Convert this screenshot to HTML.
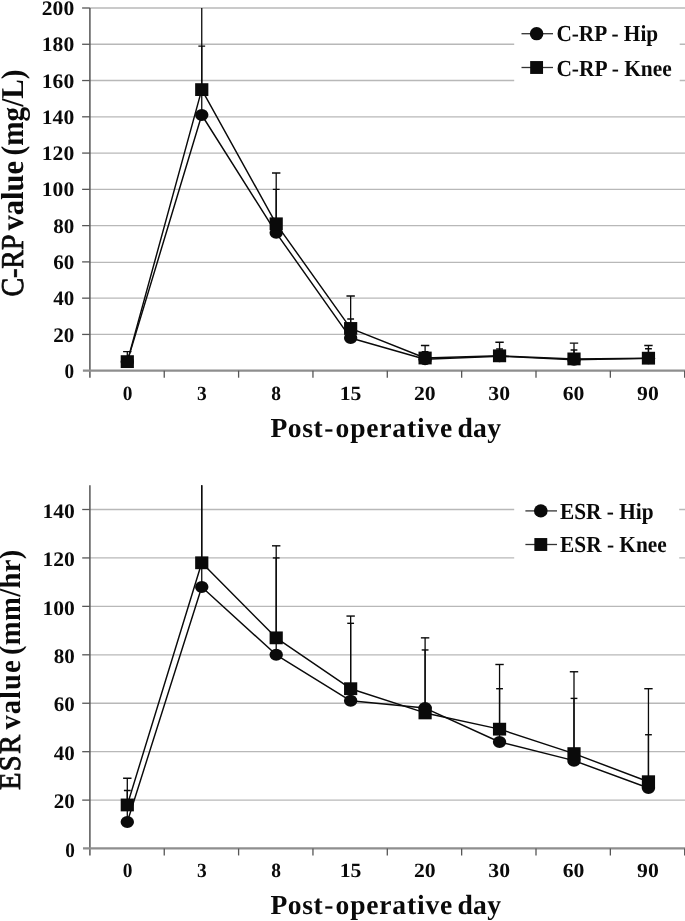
<!DOCTYPE html>
<html><head><meta charset="utf-8"><title>Chart</title>
<style>html,body{margin:0;padding:0;background:#fff;overflow:hidden;}svg{display:block;font-family:'Liberation Serif',serif;font-weight:bold;will-change:transform;filter:blur(0.45px);-webkit-font-smoothing:antialiased;text-rendering:geometricPrecision}</style></head>
<body><svg width="685" height="921" viewBox="0 0 685 921">
<rect width="685" height="921" fill="#fff"/>
<line x1="89.9" y1="334.43" x2="685" y2="334.43" stroke="#b8b8b8" stroke-width="1.35"/>
<line x1="89.9" y1="298.16" x2="685" y2="298.16" stroke="#b8b8b8" stroke-width="1.35"/>
<line x1="89.9" y1="262.39" x2="685" y2="262.39" stroke="#b8b8b8" stroke-width="1.35"/>
<line x1="89.9" y1="225.62" x2="685" y2="225.62" stroke="#b8b8b8" stroke-width="1.35"/>
<line x1="89.9" y1="189.35" x2="685" y2="189.35" stroke="#b8b8b8" stroke-width="1.35"/>
<line x1="89.9" y1="153.08" x2="685" y2="153.08" stroke="#b8b8b8" stroke-width="1.35"/>
<line x1="89.9" y1="116.81" x2="685" y2="116.81" stroke="#b8b8b8" stroke-width="1.35"/>
<line x1="89.9" y1="80.54" x2="685" y2="80.54" stroke="#b8b8b8" stroke-width="1.35"/>
<line x1="89.9" y1="44.27" x2="685" y2="44.27" stroke="#b8b8b8" stroke-width="1.35"/>
<line x1="89.9" y1="8.00" x2="685" y2="8.00" stroke="#b8b8b8" stroke-width="1.35"/>
<rect x="514.2" y="18" width="165.5" height="72" fill="#fff"/>
<line x1="89.9" y1="8.00" x2="89.9" y2="377.70" stroke="#565656" stroke-width="1.5"/>
<line x1="82.9" y1="370.55" x2="685" y2="370.55" stroke="#8e8e8e" stroke-width="2.3"/>
<line x1="164.25" y1="370.70" x2="164.25" y2="377.70" stroke="#565656" stroke-width="1.3"/>
<line x1="238.60" y1="370.70" x2="238.60" y2="377.70" stroke="#565656" stroke-width="1.3"/>
<line x1="312.95" y1="370.70" x2="312.95" y2="377.70" stroke="#565656" stroke-width="1.3"/>
<line x1="387.30" y1="370.70" x2="387.30" y2="377.70" stroke="#565656" stroke-width="1.3"/>
<line x1="461.65" y1="370.70" x2="461.65" y2="377.70" stroke="#565656" stroke-width="1.3"/>
<line x1="536.00" y1="370.70" x2="536.00" y2="377.70" stroke="#565656" stroke-width="1.3"/>
<line x1="610.35" y1="370.70" x2="610.35" y2="377.70" stroke="#565656" stroke-width="1.3"/>
<line x1="684.70" y1="370.70" x2="684.70" y2="377.70" stroke="#565656" stroke-width="1.3"/>
<line x1="82.10000000000001" y1="334.43" x2="89.9" y2="334.43" stroke="#565656" stroke-width="1.3"/>
<line x1="82.10000000000001" y1="298.16" x2="89.9" y2="298.16" stroke="#565656" stroke-width="1.3"/>
<line x1="82.10000000000001" y1="261.89" x2="89.9" y2="261.89" stroke="#565656" stroke-width="1.3"/>
<line x1="82.10000000000001" y1="225.62" x2="89.9" y2="225.62" stroke="#565656" stroke-width="1.3"/>
<line x1="82.10000000000001" y1="189.35" x2="89.9" y2="189.35" stroke="#565656" stroke-width="1.3"/>
<line x1="82.10000000000001" y1="153.08" x2="89.9" y2="153.08" stroke="#565656" stroke-width="1.3"/>
<line x1="82.10000000000001" y1="116.81" x2="89.9" y2="116.81" stroke="#565656" stroke-width="1.3"/>
<line x1="82.10000000000001" y1="80.54" x2="89.9" y2="80.54" stroke="#565656" stroke-width="1.3"/>
<line x1="82.10000000000001" y1="44.27" x2="89.9" y2="44.27" stroke="#565656" stroke-width="1.3"/>
<line x1="82.10000000000001" y1="8.00" x2="89.9" y2="8.00" stroke="#565656" stroke-width="1.3"/>
<text x="64.60" y="377.80" font-size="20.6" textLength="9.6" lengthAdjust="spacingAndGlyphs" fill="#0a0a0a">0</text>
<text x="53.20" y="341.53" font-size="20.6" textLength="21.0" lengthAdjust="spacingAndGlyphs" fill="#0a0a0a">20</text>
<text x="53.20" y="305.26" font-size="20.6" textLength="21.0" lengthAdjust="spacingAndGlyphs" fill="#0a0a0a">40</text>
<text x="53.20" y="268.99" font-size="20.6" textLength="21.0" lengthAdjust="spacingAndGlyphs" fill="#0a0a0a">60</text>
<text x="53.20" y="232.72" font-size="20.6" textLength="21.0" lengthAdjust="spacingAndGlyphs" fill="#0a0a0a">80</text>
<text x="41.80" y="196.45" font-size="20.6" textLength="32.4" lengthAdjust="spacingAndGlyphs" fill="#0a0a0a">100</text>
<text x="41.80" y="160.18" font-size="20.6" textLength="32.4" lengthAdjust="spacingAndGlyphs" fill="#0a0a0a">120</text>
<text x="41.80" y="123.91" font-size="20.6" textLength="32.4" lengthAdjust="spacingAndGlyphs" fill="#0a0a0a">140</text>
<text x="41.80" y="87.64" font-size="20.6" textLength="32.4" lengthAdjust="spacingAndGlyphs" fill="#0a0a0a">160</text>
<text x="41.80" y="51.37" font-size="20.6" textLength="32.4" lengthAdjust="spacingAndGlyphs" fill="#0a0a0a">180</text>
<text x="41.80" y="15.10" font-size="20.6" textLength="32.4" lengthAdjust="spacingAndGlyphs" fill="#0a0a0a">200</text>
<text x="122.63" y="399.6" font-size="20.2" textLength="9.7" lengthAdjust="spacingAndGlyphs" fill="#0a0a0a">0</text>
<text x="196.97" y="399.6" font-size="20.2" textLength="9.7" lengthAdjust="spacingAndGlyphs" fill="#0a0a0a">3</text>
<text x="271.32" y="399.6" font-size="20.2" textLength="9.7" lengthAdjust="spacingAndGlyphs" fill="#0a0a0a">8</text>
<text x="339.67" y="399.6" font-size="20.2" textLength="21.7" lengthAdjust="spacingAndGlyphs" fill="#0a0a0a">15</text>
<text x="414.02" y="399.6" font-size="20.2" textLength="21.7" lengthAdjust="spacingAndGlyphs" fill="#0a0a0a">20</text>
<text x="488.38" y="399.6" font-size="20.2" textLength="21.7" lengthAdjust="spacingAndGlyphs" fill="#0a0a0a">30</text>
<text x="562.72" y="399.6" font-size="20.2" textLength="21.7" lengthAdjust="spacingAndGlyphs" fill="#0a0a0a">60</text>
<text x="637.07" y="399.6" font-size="20.2" textLength="21.7" lengthAdjust="spacingAndGlyphs" fill="#0a0a0a">90</text>
<text x="270.4" y="436.9" font-size="27.6" textLength="52.4" lengthAdjust="spacing" fill="#0a0a0a">Post</text>
<text x="324.2" y="436.9" font-size="27.6" textLength="8.8" lengthAdjust="spacing" fill="#0a0a0a">-</text>
<text x="335.6" y="436.9" font-size="27.6" textLength="116.6" lengthAdjust="spacing" fill="#0a0a0a">operative</text>
<text x="457.4" y="436.9" font-size="27.6" textLength="43.6" lengthAdjust="spacing" fill="#0a0a0a">day</text>
<text transform="translate(23.2,296.6) rotate(-90) scale(1,1.06)" font-size="30" textLength="62.0" lengthAdjust="spacingAndGlyphs" fill="#0a0a0a" font-weight="normal" stroke="#0a0a0a" stroke-width="0.75">C-RP</text>
<text transform="translate(23.2,230.6) rotate(-90) scale(1,1.06)" font-size="30" textLength="69.6" lengthAdjust="spacingAndGlyphs" fill="#0a0a0a" >value</text>
<text transform="translate(23.2,155.4) rotate(-90) scale(1,1.06)" font-size="30" textLength="85.8" lengthAdjust="spacingAndGlyphs" fill="#0a0a0a" >(mg/L)</text>
<clipPath id="c370"><rect x="89.9" y="8.00" width="595.1" height="372.70"/></clipPath>
<g clip-path="url(#c370)">
<line x1="127.30" y1="361.63" x2="127.30" y2="357.10" stroke="#0a0a0a" stroke-width="1.3"/>
<line x1="123.90" y1="357.10" x2="130.70" y2="357.10" stroke="#0a0a0a" stroke-width="1.4"/>
<line x1="201.75" y1="115.00" x2="201.75" y2="46.08" stroke="#0a0a0a" stroke-width="1.3"/>
<line x1="198.35" y1="46.08" x2="205.15" y2="46.08" stroke="#0a0a0a" stroke-width="1.4"/>
<line x1="276.20" y1="232.87" x2="276.20" y2="189.35" stroke="#0a0a0a" stroke-width="1.3"/>
<line x1="272.80" y1="189.35" x2="279.60" y2="189.35" stroke="#0a0a0a" stroke-width="1.4"/>
<line x1="350.65" y1="338.06" x2="350.65" y2="319.02" stroke="#0a0a0a" stroke-width="1.3"/>
<line x1="347.25" y1="319.02" x2="354.05" y2="319.02" stroke="#0a0a0a" stroke-width="1.4"/>
<line x1="425.10" y1="359.27" x2="425.10" y2="351.66" stroke="#0a0a0a" stroke-width="1.3"/>
<line x1="421.70" y1="351.66" x2="428.50" y2="351.66" stroke="#0a0a0a" stroke-width="1.4"/>
<line x1="499.55" y1="356.19" x2="499.55" y2="348.94" stroke="#0a0a0a" stroke-width="1.3"/>
<line x1="496.15" y1="348.94" x2="502.95" y2="348.94" stroke="#0a0a0a" stroke-width="1.4"/>
<line x1="574.00" y1="359.82" x2="574.00" y2="350.03" stroke="#0a0a0a" stroke-width="1.3"/>
<line x1="570.60" y1="350.03" x2="577.40" y2="350.03" stroke="#0a0a0a" stroke-width="1.4"/>
<line x1="648.45" y1="358.37" x2="648.45" y2="348.76" stroke="#0a0a0a" stroke-width="1.3"/>
<line x1="645.05" y1="348.76" x2="651.85" y2="348.76" stroke="#0a0a0a" stroke-width="1.4"/>
<line x1="127.30" y1="361.63" x2="127.30" y2="351.66" stroke="#0a0a0a" stroke-width="1.3"/>
<line x1="123.10" y1="351.66" x2="131.50" y2="351.66" stroke="#0a0a0a" stroke-width="1.4"/>
<line x1="201.75" y1="89.61" x2="201.75" y2="-10.13" stroke="#0a0a0a" stroke-width="1.3"/>
<line x1="197.55" y1="-10.13" x2="205.95" y2="-10.13" stroke="#0a0a0a" stroke-width="1.4"/>
<line x1="276.20" y1="223.81" x2="276.20" y2="173.03" stroke="#0a0a0a" stroke-width="1.3"/>
<line x1="272.00" y1="173.03" x2="280.40" y2="173.03" stroke="#0a0a0a" stroke-width="1.4"/>
<line x1="350.65" y1="328.45" x2="350.65" y2="295.98" stroke="#0a0a0a" stroke-width="1.3"/>
<line x1="346.45" y1="295.98" x2="354.85" y2="295.98" stroke="#0a0a0a" stroke-width="1.4"/>
<line x1="425.10" y1="358.01" x2="425.10" y2="345.49" stroke="#0a0a0a" stroke-width="1.3"/>
<line x1="420.90" y1="345.49" x2="429.30" y2="345.49" stroke="#0a0a0a" stroke-width="1.4"/>
<line x1="499.55" y1="355.83" x2="499.55" y2="342.23" stroke="#0a0a0a" stroke-width="1.3"/>
<line x1="495.35" y1="342.23" x2="503.75" y2="342.23" stroke="#0a0a0a" stroke-width="1.4"/>
<line x1="574.00" y1="358.91" x2="574.00" y2="343.13" stroke="#0a0a0a" stroke-width="1.3"/>
<line x1="569.80" y1="343.13" x2="578.20" y2="343.13" stroke="#0a0a0a" stroke-width="1.4"/>
<line x1="648.45" y1="358.19" x2="648.45" y2="345.49" stroke="#0a0a0a" stroke-width="1.3"/>
<line x1="644.25" y1="345.49" x2="652.65" y2="345.49" stroke="#0a0a0a" stroke-width="1.4"/>
<polyline points="127.30,361.63 201.75,115.00 276.20,232.87 350.65,338.06 425.10,359.27 499.55,356.19 574.00,359.82 648.45,358.37" fill="none" stroke="#0a0a0a" stroke-width="1.45" stroke-linejoin="round"/>
<polyline points="127.30,361.63 201.75,89.61 276.20,223.81 350.65,328.45 425.10,358.01 499.55,355.83 574.00,358.91 648.45,358.19" fill="none" stroke="#0a0a0a" stroke-width="1.45" stroke-linejoin="round"/>
<ellipse cx="127.30" cy="361.63" rx="6.7" ry="6.0" fill="#0a0a0a"/>
<ellipse cx="201.75" cy="115.00" rx="6.7" ry="6.0" fill="#0a0a0a"/>
<ellipse cx="276.20" cy="232.87" rx="6.7" ry="6.0" fill="#0a0a0a"/>
<ellipse cx="350.65" cy="338.06" rx="6.7" ry="6.0" fill="#0a0a0a"/>
<ellipse cx="425.10" cy="359.27" rx="6.7" ry="6.0" fill="#0a0a0a"/>
<ellipse cx="499.55" cy="356.19" rx="6.7" ry="6.0" fill="#0a0a0a"/>
<ellipse cx="574.00" cy="359.82" rx="6.7" ry="6.0" fill="#0a0a0a"/>
<ellipse cx="648.45" cy="358.37" rx="6.7" ry="6.0" fill="#0a0a0a"/>
<rect x="120.70" y="355.23" width="13.2" height="12.8" fill="#0a0a0a"/>
<rect x="195.15" y="83.21" width="13.2" height="12.8" fill="#0a0a0a"/>
<rect x="269.60" y="217.41" width="13.2" height="12.8" fill="#0a0a0a"/>
<rect x="344.05" y="322.05" width="13.2" height="12.8" fill="#0a0a0a"/>
<rect x="418.50" y="351.61" width="13.2" height="12.8" fill="#0a0a0a"/>
<rect x="492.95" y="349.43" width="13.2" height="12.8" fill="#0a0a0a"/>
<rect x="567.40" y="352.51" width="13.2" height="12.8" fill="#0a0a0a"/>
<rect x="641.85" y="351.79" width="13.2" height="12.8" fill="#0a0a0a"/>
</g>
<line x1="521.5" y1="33.7" x2="553.0" y2="33.7" stroke="#333" stroke-width="1.3"/>
<ellipse cx="536.6" cy="33.7" rx="6.78" ry="6.67" fill="#0a0a0a"/>
<text x="556.4" y="41.2" font-size="23" textLength="101.8" lengthAdjust="spacingAndGlyphs" fill="#0a0a0a">C-RP - Hip</text>
<line x1="521.5" y1="67.5" x2="553.0" y2="67.5" stroke="#333" stroke-width="1.3"/>
<rect x="530.16" y="61.06" width="12.88" height="12.88" fill="#0a0a0a"/>
<text x="556.4" y="75.6" font-size="23" textLength="115.4" lengthAdjust="spacingAndGlyphs" fill="#0a0a0a">C-RP - Knee</text>
<line x1="89.9" y1="800.11" x2="685" y2="800.11" stroke="#b8b8b8" stroke-width="1.35"/>
<line x1="89.9" y1="751.68" x2="685" y2="751.68" stroke="#b8b8b8" stroke-width="1.35"/>
<line x1="89.9" y1="703.24" x2="685" y2="703.24" stroke="#b8b8b8" stroke-width="1.35"/>
<line x1="89.9" y1="654.81" x2="685" y2="654.81" stroke="#b8b8b8" stroke-width="1.35"/>
<line x1="89.9" y1="606.37" x2="685" y2="606.37" stroke="#b8b8b8" stroke-width="1.35"/>
<line x1="89.9" y1="557.93" x2="685" y2="557.93" stroke="#b8b8b8" stroke-width="1.35"/>
<line x1="89.9" y1="509.50" x2="685" y2="509.50" stroke="#b8b8b8" stroke-width="1.35"/>
<rect x="514.2" y="495" width="165.0" height="75" fill="#fff"/>
<line x1="89.9" y1="485.28" x2="89.9" y2="855.45" stroke="#565656" stroke-width="1.5"/>
<line x1="83.0" y1="848.40" x2="685" y2="848.40" stroke="#8e8e8e" stroke-width="2.3"/>
<line x1="164.25" y1="848.55" x2="164.25" y2="855.45" stroke="#565656" stroke-width="1.3"/>
<line x1="238.60" y1="848.55" x2="238.60" y2="855.45" stroke="#565656" stroke-width="1.3"/>
<line x1="312.95" y1="848.55" x2="312.95" y2="855.45" stroke="#565656" stroke-width="1.3"/>
<line x1="387.30" y1="848.55" x2="387.30" y2="855.45" stroke="#565656" stroke-width="1.3"/>
<line x1="461.65" y1="848.55" x2="461.65" y2="855.45" stroke="#565656" stroke-width="1.3"/>
<line x1="536.00" y1="848.55" x2="536.00" y2="855.45" stroke="#565656" stroke-width="1.3"/>
<line x1="610.35" y1="848.55" x2="610.35" y2="855.45" stroke="#565656" stroke-width="1.3"/>
<line x1="684.70" y1="848.55" x2="684.70" y2="855.45" stroke="#565656" stroke-width="1.3"/>
<line x1="82.2" y1="800.11" x2="89.9" y2="800.11" stroke="#565656" stroke-width="1.3"/>
<line x1="82.2" y1="751.68" x2="89.9" y2="751.68" stroke="#565656" stroke-width="1.3"/>
<line x1="82.2" y1="703.24" x2="89.9" y2="703.24" stroke="#565656" stroke-width="1.3"/>
<line x1="82.2" y1="654.81" x2="89.9" y2="654.81" stroke="#565656" stroke-width="1.3"/>
<line x1="82.2" y1="606.37" x2="89.9" y2="606.37" stroke="#565656" stroke-width="1.3"/>
<line x1="82.2" y1="557.93" x2="89.9" y2="557.93" stroke="#565656" stroke-width="1.3"/>
<line x1="82.2" y1="509.50" x2="89.9" y2="509.50" stroke="#565656" stroke-width="1.3"/>
<text x="65.20" y="856.75" font-size="20.6" textLength="9.6" lengthAdjust="spacingAndGlyphs" fill="#0a0a0a">0</text>
<text x="53.80" y="808.31" font-size="20.6" textLength="21.0" lengthAdjust="spacingAndGlyphs" fill="#0a0a0a">20</text>
<text x="53.80" y="759.88" font-size="20.6" textLength="21.0" lengthAdjust="spacingAndGlyphs" fill="#0a0a0a">40</text>
<text x="53.80" y="711.44" font-size="20.6" textLength="21.0" lengthAdjust="spacingAndGlyphs" fill="#0a0a0a">60</text>
<text x="53.80" y="663.01" font-size="20.6" textLength="21.0" lengthAdjust="spacingAndGlyphs" fill="#0a0a0a">80</text>
<text x="42.40" y="614.57" font-size="20.6" textLength="32.4" lengthAdjust="spacingAndGlyphs" fill="#0a0a0a">100</text>
<text x="42.40" y="566.13" font-size="20.6" textLength="32.4" lengthAdjust="spacingAndGlyphs" fill="#0a0a0a">120</text>
<text x="42.40" y="517.70" font-size="20.6" textLength="32.4" lengthAdjust="spacingAndGlyphs" fill="#0a0a0a">140</text>
<text x="122.63" y="877.2" font-size="20.2" textLength="9.7" lengthAdjust="spacingAndGlyphs" fill="#0a0a0a">0</text>
<text x="196.97" y="877.2" font-size="20.2" textLength="9.7" lengthAdjust="spacingAndGlyphs" fill="#0a0a0a">3</text>
<text x="271.32" y="877.2" font-size="20.2" textLength="9.7" lengthAdjust="spacingAndGlyphs" fill="#0a0a0a">8</text>
<text x="339.67" y="877.2" font-size="20.2" textLength="21.7" lengthAdjust="spacingAndGlyphs" fill="#0a0a0a">15</text>
<text x="414.02" y="877.2" font-size="20.2" textLength="21.7" lengthAdjust="spacingAndGlyphs" fill="#0a0a0a">20</text>
<text x="488.38" y="877.2" font-size="20.2" textLength="21.7" lengthAdjust="spacingAndGlyphs" fill="#0a0a0a">30</text>
<text x="562.72" y="877.2" font-size="20.2" textLength="21.7" lengthAdjust="spacingAndGlyphs" fill="#0a0a0a">60</text>
<text x="637.07" y="877.2" font-size="20.2" textLength="21.7" lengthAdjust="spacingAndGlyphs" fill="#0a0a0a">90</text>
<text x="270.4" y="913.8" font-size="27.6" textLength="52.4" lengthAdjust="spacing" fill="#0a0a0a">Post</text>
<text x="324.2" y="913.8" font-size="27.6" textLength="8.8" lengthAdjust="spacing" fill="#0a0a0a">-</text>
<text x="335.6" y="913.8" font-size="27.6" textLength="116.6" lengthAdjust="spacing" fill="#0a0a0a">operative</text>
<text x="457.4" y="913.8" font-size="27.6" textLength="43.6" lengthAdjust="spacing" fill="#0a0a0a">day</text>
<text transform="translate(20.4,790.0) rotate(-90) scale(1,1.06)" font-size="28.6" textLength="55.0" lengthAdjust="spacing" fill="#0a0a0a" font-weight="normal" stroke="#0a0a0a" stroke-width="0.75">ESR</text>
<text transform="translate(20.4,729.6) rotate(-90) scale(1,1.06)" font-size="28.6" textLength="69.2" lengthAdjust="spacing" fill="#0a0a0a" >value</text>
<text transform="translate(20.4,655.0) rotate(-90) scale(1,1.06)" font-size="28.6" textLength="105.4" lengthAdjust="spacing" fill="#0a0a0a" >(mm/hr)</text>
<clipPath id="c848"><rect x="89.9" y="485.28" width="595.1" height="373.27"/></clipPath>
<g clip-path="url(#c848)">
<line x1="127.30" y1="821.91" x2="127.30" y2="790.43" stroke="#0a0a0a" stroke-width="1.3"/>
<line x1="123.90" y1="790.43" x2="130.70" y2="790.43" stroke="#0a0a0a" stroke-width="1.4"/>
<line x1="201.75" y1="587.00" x2="201.75" y2="461.06" stroke="#0a0a0a" stroke-width="1.3"/>
<line x1="198.35" y1="461.06" x2="205.15" y2="461.06" stroke="#0a0a0a" stroke-width="1.4"/>
<line x1="276.20" y1="654.81" x2="276.20" y2="557.93" stroke="#0a0a0a" stroke-width="1.3"/>
<line x1="272.80" y1="557.93" x2="279.60" y2="557.93" stroke="#0a0a0a" stroke-width="1.4"/>
<line x1="350.65" y1="700.82" x2="350.65" y2="623.32" stroke="#0a0a0a" stroke-width="1.3"/>
<line x1="347.25" y1="623.32" x2="354.05" y2="623.32" stroke="#0a0a0a" stroke-width="1.4"/>
<line x1="425.10" y1="708.09" x2="425.10" y2="649.96" stroke="#0a0a0a" stroke-width="1.3"/>
<line x1="421.70" y1="649.96" x2="428.50" y2="649.96" stroke="#0a0a0a" stroke-width="1.4"/>
<line x1="499.55" y1="741.99" x2="499.55" y2="688.71" stroke="#0a0a0a" stroke-width="1.3"/>
<line x1="496.15" y1="688.71" x2="502.95" y2="688.71" stroke="#0a0a0a" stroke-width="1.4"/>
<line x1="574.00" y1="760.64" x2="574.00" y2="698.40" stroke="#0a0a0a" stroke-width="1.3"/>
<line x1="570.60" y1="698.40" x2="577.40" y2="698.40" stroke="#0a0a0a" stroke-width="1.4"/>
<line x1="648.45" y1="788.00" x2="648.45" y2="734.73" stroke="#0a0a0a" stroke-width="1.3"/>
<line x1="645.05" y1="734.73" x2="651.85" y2="734.73" stroke="#0a0a0a" stroke-width="1.4"/>
<line x1="127.30" y1="804.96" x2="127.30" y2="778.32" stroke="#0a0a0a" stroke-width="1.3"/>
<line x1="123.10" y1="778.32" x2="131.50" y2="778.32" stroke="#0a0a0a" stroke-width="1.4"/>
<line x1="201.75" y1="562.78" x2="201.75" y2="461.06" stroke="#0a0a0a" stroke-width="1.3"/>
<line x1="197.55" y1="461.06" x2="205.95" y2="461.06" stroke="#0a0a0a" stroke-width="1.4"/>
<line x1="276.20" y1="637.85" x2="276.20" y2="545.82" stroke="#0a0a0a" stroke-width="1.3"/>
<line x1="272.00" y1="545.82" x2="280.40" y2="545.82" stroke="#0a0a0a" stroke-width="1.4"/>
<line x1="350.65" y1="688.71" x2="350.65" y2="616.06" stroke="#0a0a0a" stroke-width="1.3"/>
<line x1="346.45" y1="616.06" x2="354.85" y2="616.06" stroke="#0a0a0a" stroke-width="1.4"/>
<line x1="425.10" y1="712.93" x2="425.10" y2="637.85" stroke="#0a0a0a" stroke-width="1.3"/>
<line x1="420.90" y1="637.85" x2="429.30" y2="637.85" stroke="#0a0a0a" stroke-width="1.4"/>
<line x1="499.55" y1="729.16" x2="499.55" y2="664.49" stroke="#0a0a0a" stroke-width="1.3"/>
<line x1="495.35" y1="664.49" x2="503.75" y2="664.49" stroke="#0a0a0a" stroke-width="1.4"/>
<line x1="574.00" y1="753.62" x2="574.00" y2="671.76" stroke="#0a0a0a" stroke-width="1.3"/>
<line x1="569.80" y1="671.76" x2="578.20" y2="671.76" stroke="#0a0a0a" stroke-width="1.4"/>
<line x1="648.45" y1="781.71" x2="648.45" y2="688.71" stroke="#0a0a0a" stroke-width="1.3"/>
<line x1="644.25" y1="688.71" x2="652.65" y2="688.71" stroke="#0a0a0a" stroke-width="1.4"/>
<polyline points="127.30,821.91 201.75,587.00 276.20,654.81 350.65,700.82 425.10,708.09 499.55,741.99 574.00,760.64 648.45,788.00" fill="none" stroke="#0a0a0a" stroke-width="1.45" stroke-linejoin="round"/>
<polyline points="127.30,804.96 201.75,562.78 276.20,637.85 350.65,688.71 425.10,712.93 499.55,729.16 574.00,753.62 648.45,781.71" fill="none" stroke="#0a0a0a" stroke-width="1.45" stroke-linejoin="round"/>
<ellipse cx="127.30" cy="821.91" rx="6.7" ry="6.0" fill="#0a0a0a"/>
<ellipse cx="201.75" cy="587.00" rx="6.7" ry="6.0" fill="#0a0a0a"/>
<ellipse cx="276.20" cy="654.81" rx="6.7" ry="6.0" fill="#0a0a0a"/>
<ellipse cx="350.65" cy="700.82" rx="6.7" ry="6.0" fill="#0a0a0a"/>
<ellipse cx="425.10" cy="708.09" rx="6.7" ry="6.0" fill="#0a0a0a"/>
<ellipse cx="499.55" cy="741.99" rx="6.7" ry="6.0" fill="#0a0a0a"/>
<ellipse cx="574.00" cy="760.64" rx="6.7" ry="6.0" fill="#0a0a0a"/>
<ellipse cx="648.45" cy="788.00" rx="6.7" ry="6.0" fill="#0a0a0a"/>
<rect x="120.70" y="798.56" width="13.2" height="12.8" fill="#0a0a0a"/>
<rect x="195.15" y="556.38" width="13.2" height="12.8" fill="#0a0a0a"/>
<rect x="269.60" y="631.45" width="13.2" height="12.8" fill="#0a0a0a"/>
<rect x="344.05" y="682.31" width="13.2" height="12.8" fill="#0a0a0a"/>
<rect x="418.50" y="706.53" width="13.2" height="12.8" fill="#0a0a0a"/>
<rect x="492.95" y="722.76" width="13.2" height="12.8" fill="#0a0a0a"/>
<rect x="567.40" y="747.22" width="13.2" height="12.8" fill="#0a0a0a"/>
<rect x="641.85" y="775.31" width="13.2" height="12.8" fill="#0a0a0a"/>
</g>
<line x1="525.4" y1="510.9" x2="557.0" y2="510.9" stroke="#333" stroke-width="1.3"/>
<ellipse cx="540.8" cy="510.9" rx="6.78" ry="6.67" fill="#0a0a0a"/>
<text x="560.0" y="518.5" font-size="23" textLength="93.6" lengthAdjust="spacingAndGlyphs" fill="#0a0a0a">ESR - Hip</text>
<line x1="525.4" y1="544.5" x2="557.0" y2="544.5" stroke="#333" stroke-width="1.3"/>
<rect x="534.36" y="538.06" width="12.88" height="12.88" fill="#0a0a0a"/>
<text x="560.0" y="552.2" font-size="23" textLength="106.8" lengthAdjust="spacingAndGlyphs" fill="#0a0a0a">ESR - Knee</text>
</svg></body></html>
